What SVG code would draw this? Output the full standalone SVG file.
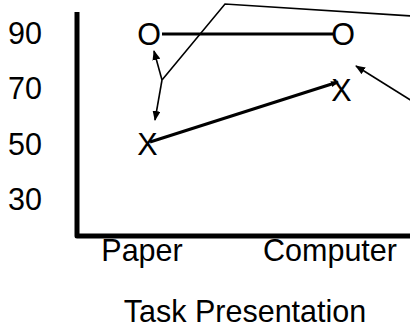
<svg xmlns="http://www.w3.org/2000/svg" width="410" height="327" viewBox="0 0 410 327">
<style>
text{font-family:"Liberation Sans",Arial,sans-serif;fill:#000;font-size:30.5px}
.c{text-anchor:middle}
.thin{stroke:#000;stroke-width:1.6;fill:none}
.thick{stroke:#000;stroke-width:3;fill:none}
</style>
<defs>
<marker id="ah" markerWidth="10" markerHeight="8" refX="9" refY="4" orient="auto" markerUnits="userSpaceOnUse">
<path d="M0,0 L10,4 L0,8 Z" fill="#000"/>
</marker>
<marker id="ah2" markerWidth="8" markerHeight="6" refX="7" refY="3" orient="auto" markerUnits="userSpaceOnUse">
<path d="M0,0 L8,3 L0,6 Z" fill="#000"/>
</marker>
</defs>
<g id="axes">
<path d="M77,12 L77,236 L412,236" stroke="#000" stroke-width="5" fill="none" stroke-linejoin="round"/>
<text x="8" y="44">90</text>
<text x="8" y="99">70</text>
<text x="8" y="155">50</text>
<text x="8" y="210">30</text>
<text class="c" x="142" y="261">Paper</text>
<text class="c" x="330" y="261">Computer</text>
<text class="c" x="245" y="322">Task Presentation</text>
</g>
<g id="connectors">
<line class="thick" x1="162" y1="34" x2="333" y2="34"/>
<line class="thick" x1="150" y1="142" x2="338" y2="82" marker-end="url(#ah2)"/>
<polyline class="thin" points="162,80 225,4 412,16"/>
<line class="thin" x1="162" y1="80" x2="154" y2="51" marker-end="url(#ah)"/>
<line class="thin" x1="162" y1="80" x2="155" y2="120" marker-end="url(#ah)"/>
<line class="thin" x1="412" y1="101" x2="356" y2="66" marker-end="url(#ah)"/>
</g>
<g id="o-paper"><text class="c" x="149" y="45">O</text></g>
<g id="o-computer"><text class="c" x="343" y="45">O</text></g>
<g id="x-paper"><text class="c" x="147.5" y="155">X</text></g>
<g id="x-computer"><text class="c" x="341.5" y="101">X</text></g>
</svg>
